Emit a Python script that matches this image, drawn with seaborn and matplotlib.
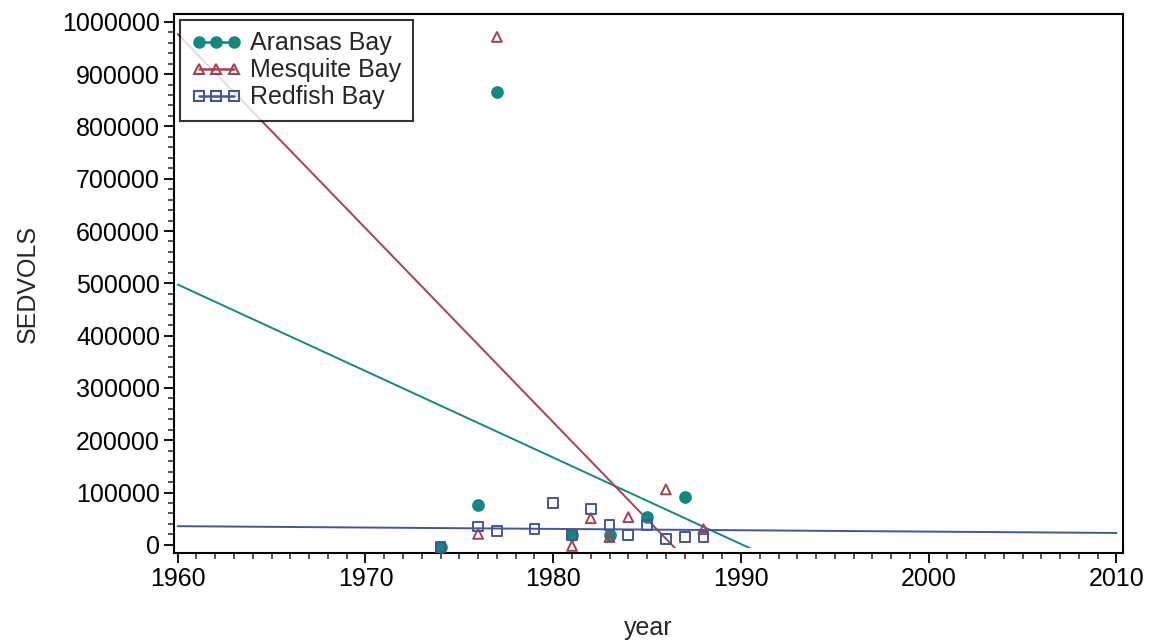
import numpy as np
import pandas as pd
import matplotlib
matplotlib.use("Agg")
import matplotlib.pyplot as plt
from matplotlib.lines import Line2D
from matplotlib.patches import Rectangle
from matplotlib.ticker import MultipleLocator
import seaborn as sns

# values
aransas_year = [1974, 1976, 1977, 1981, 1983, 1985, 1987]
aransas_vol = [-4000, 76000, 865000, 19000, 19000, 53000, 91000]
mesquite_year = [1976, 1977, 1981, 1982, 1983, 1984, 1986, 1988]
mesquite_vol = [21000, 971000, -2000, 51000, 15000, 53000, 106000, 30000]
redfish_year = [1974, 1976, 1977, 1979, 1980, 1981, 1982, 1983, 1984, 1985, 1986, 1987, 1988]
redfish_vol = [-4000, 35000, 26700, 30000, 80000, 19000, 68600, 38000, 19000, 38000, 11400, 15000, 15000]

bays = ["Aransas Bay", "Mesquite Bay", "Redfish Bay"]
colors = {"Aransas Bay": "#12897f", "Mesquite Bay": "#a8404f", "Redfish Bay": "#445694"}
markers = {"Aransas Bay": "o", "Mesquite Bay": "^", "Redfish Bay": "s"}

df = pd.concat([
    pd.DataFrame({"year": aransas_year, "SEDVOLS": aransas_vol, "bay": "Aransas Bay"}),
    pd.DataFrame({"year": mesquite_year, "SEDVOLS": mesquite_vol, "bay": "Mesquite Bay"}),
    pd.DataFrame({"year": redfish_year, "SEDVOLS": redfish_vol, "bay": "Redfish Bay"}),
], ignore_index=True)

sns.set_style("ticks")
plt.rcParams["font.family"] = ["Liberation Sans", "DejaVu Sans"]

fig = plt.figure(figsize=(11.49, 6.41), dpi=100)
ax = fig.add_axes([0.1514, 0.1373, 0.826, 0.841])

# regression lines span the labelled year range
ax.set_xlim(1960, 2010)
for b in bays:
    sub = df[df.bay == b]
    sns.regplot(data=sub, x="year", y="SEDVOLS", ax=ax, scatter=False, ci=None,
                truncate=False, color=colors[b], line_kws={"lw": 1.4, "zorder": 2})

# fitted lines stop just below the lowest data value
clip = Rectangle((1950, -6000), 80, 2e6, transform=ax.transData, visible=False)
ax.add_patch(clip)
for ln in ax.lines:
    ln.set_clip_path(clip)

for b in bays:
    sub = df[df.bay == b]
    filled = b == "Aransas Bay"
    ax.scatter(sub.year, sub.SEDVOLS, marker=markers[b], s=60 if filled else 50,
               facecolor=colors[b] if filled else "none", edgecolor=colors[b],
               linewidth=1.4, zorder=3)

ax.set_xlim(1959.8, 2010.35)
ax.set_ylim(-15500, 1015000)
ax.xaxis.set_major_locator(MultipleLocator(10))
ax.xaxis.set_minor_locator(MultipleLocator(1))
ax.yaxis.set_major_locator(MultipleLocator(100000))
ax.yaxis.set_minor_locator(MultipleLocator(20000))
ax.yaxis.set_major_formatter(matplotlib.ticker.FuncFormatter(lambda v, p: f"{int(v)}"))

for s in ax.spines.values():
    s.set_linewidth(1.5)
    s.set_color("black")
ax.tick_params(which="major", length=7, width=1.3, labelsize=18, colors="black", pad=3)
ax.tick_params(which="minor", length=4, width=1.1)

ax.set_xlabel("year", fontsize=18, labelpad=18)
ax.set_ylabel("SEDVOLS", fontsize=18, labelpad=16)

handles = [Line2D([0], [0], color=colors[b], marker=markers[b], lw=1.8, markersize=7.5,
                  markerfacecolor=colors[b] if b == "Aransas Bay" else "none",
                  markeredgecolor=colors[b], markeredgewidth=1.5) for b in bays]
leg = ax.legend(handles, bays, loc="upper left", numpoints=3, handlelength=2.0,
                handletextpad=0.35, fontsize=18, frameon=True, fancybox=False,
                borderaxespad=0.25, borderpad=0.45, labelspacing=0.12)
leg.get_frame().set_edgecolor("black")
leg.get_frame().set_linewidth(1.5)

fig.savefig("out.png", dpi=100)
